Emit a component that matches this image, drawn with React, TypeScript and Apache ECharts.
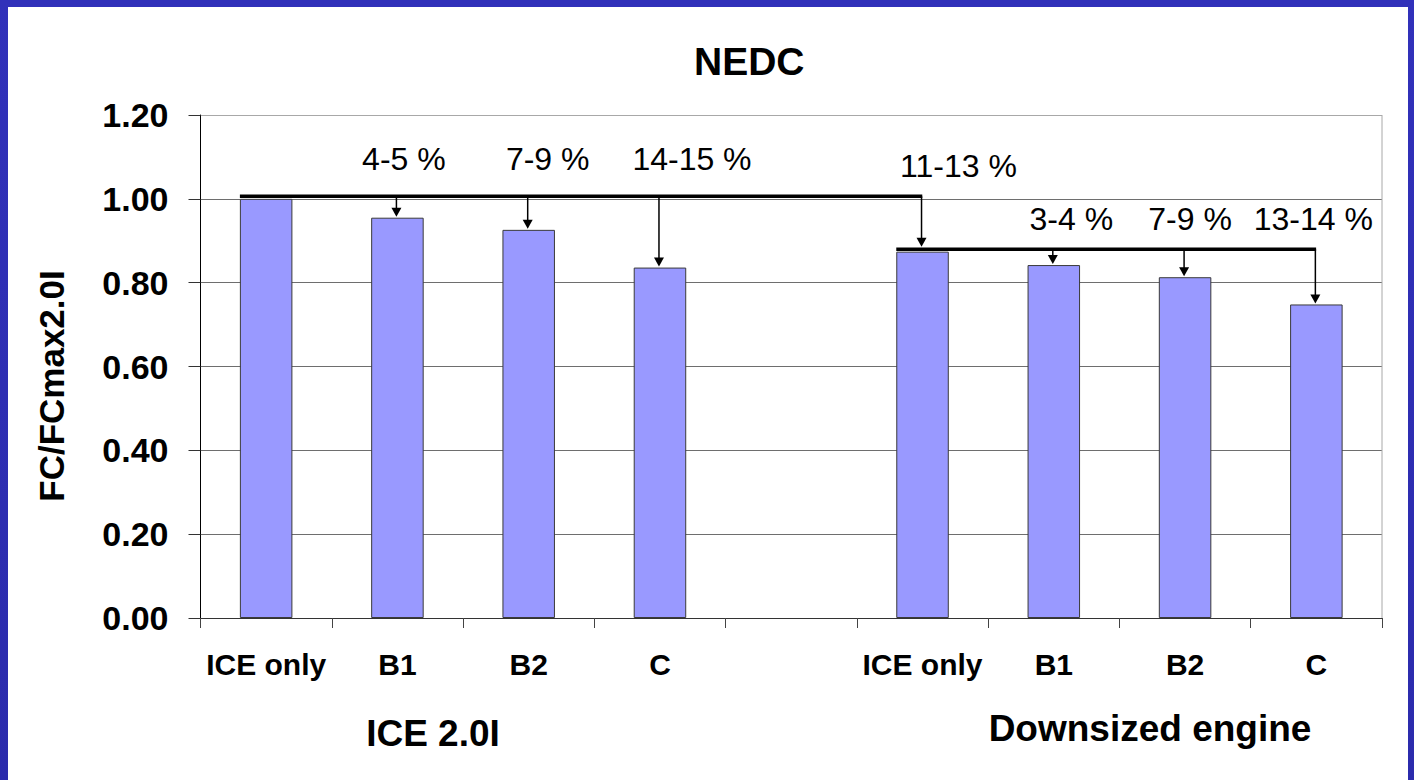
import React, { useEffect, useRef } from "react";
import * as echarts from "echarts";

// ---- data ----
const categories = ["ICE only", "B1", "B2", "C", "", "ICE only", "B1", "B2", "C"];
const fcValues: (number | null)[] = [1.0, 0.955, 0.926, 0.836, null, 0.874, 0.842, 0.813, 0.748];
const yMin = 0;
const yMax = 1.2;
const yStep = 0.2;
const chartTitle = "NEDC";
const yAxisTitle = "FC/FCmax2.0I";
const groupNames = ["ICE 2.0I", "Downsized engine"];
// reference bar of each bracket and the bars its arrows point to
const bracketRefs = [0, 5];
const bracketTargets = [[1, 2, 3, 5], [6, 7, 8]];
// saving annotations: text, category it sits over, value level of the text
const savingTexts = ["4-5 %", "7-9 %", "14-15 %", "11-13 %", "3-4 %", "7-9 %", "13-14 %"];
const savingCats = [1, 2, 3, 5, 6, 7, 8];
const savingLevels = [1.095, 1.095, 1.095, 1.079, 0.9525, 0.9525, 0.9525];

// ---- layout (pixels) ----
const savingDx = [6.5, 19, 32, 36, 17.5, 5, -3];
const groupPos = [
  [425, 726.5],
  [1142, 721.5],
];
const FONT = '"Liberation Sans", Arial, Helvetica, sans-serif';

export default function App() {
  const ref = useRef<HTMLDivElement>(null);

  useEffect(() => {
    if (!ref.current) return;
    const chart = echarts.init(ref.current, null, { renderer: "svg" });
    const splitColors = [] as string[];
    for (let v = yMin; v <= yMax + 1e-9; v += yStep) splitColors.push("#6e6e6e");
    splitColors[splitColors.length - 1] = "#a8a8a8";

    chart.setOption({
      animation: false,
      backgroundColor: "#ffffff",
      title: {
        text: chartTitle,
        left: 686,
        top: 34.5,
        padding: 0,
        textStyle: { fontFamily: FONT, fontSize: 39, fontWeight: "bold", color: "#000" },
      },
      grid: { left: 192.5, right: 26, top: 108, bottom: 162 },
      xAxis: {
        type: "category",
        data: categories,
        boundaryGap: true,
        axisLine: { show: true, lineStyle: { color: "#333", width: 1 } },
        axisTick: { show: true, length: 10, interval: 0, alignWithLabel: false, lineStyle: { color: "#444" } },
        axisLabel: {
          interval: 0,
          margin: 31,
          fontFamily: FONT,
          fontSize: 30,
          fontWeight: "bold",
          color: "#000",
        },
        splitLine: { show: false },
      },
      yAxis: {
        type: "value",
        min: yMin,
        max: yMax,
        interval: yStep,
        axisLine: { show: true, lineStyle: { color: "#000", width: 1 } },
        axisTick: { show: true, length: 12, lineStyle: { color: "#333" } },
        axisLabel: {
          margin: 32,
          formatter: (v: number) => v.toFixed(2),
          fontFamily: FONT,
          fontSize: 34,
          fontWeight: "bold",
          color: "#000",
        },
        splitLine: { show: true, lineStyle: { color: splitColors, width: 1 } },
      },
      series: [
        {
          type: "bar",
          data: fcValues,
          barWidth: "40%",
          itemStyle: { color: "#9999ff", borderColor: "#3a3a3a", borderWidth: 1 },
        },
      ],
    });

    const px = (c: number, v: number) => chart.convertToPixel({ gridIndex: 0 }, [c, v]) as number[];
    const band = px(1, 0)[0] - px(0, 0)[0];
    const halfBar = (band * 0.4) / 2;
    const elements: any[] = [];

    // right border of plot
    const rightX = px(categories.length - 1, 0)[0] + band / 2;
    elements.push({
      type: "line",
      shape: { x1: rightX, y1: px(0, yMax)[1], x2: rightX, y2: px(0, yMin)[1] },
      style: { stroke: "#a8a8a8", lineWidth: 1 },
      z: 5,
    });

    bracketRefs.forEach((r, i) => {
      const level = fcValues[r] as number;
      const [rx, ry] = px(r, level);
      const y = ry - 2.5;
      const targets = bracketTargets[i];
      const last = targets[targets.length - 1];
      const x1 = px(last, level)[0] - 1;
      elements.push({
        type: "line",
        shape: { x1: rx - halfBar, y1: y, x2: x1 + 0.75, y2: y },
        style: { stroke: "#000", lineWidth: 3.5 },
        z: 10,
      });
      targets.forEach((t) => {
        const [tx, ty] = px(t, fcValues[t] as number);
        const ax = tx - 1;
        const tip = bracketRefs.includes(t) ? ty - 5 : ty - 1;
        elements.push({
          type: "line",
          shape: { x1: ax, y1: y, x2: ax, y2: tip - 8 },
          style: { stroke: "#000", lineWidth: 1.5 },
          z: 10,
        });
        elements.push({
          type: "polygon",
          shape: { points: [[ax - 5, tip - 9], [ax + 5, tip - 9], [ax, tip]] },
          style: { fill: "#000" },
          z: 10,
        });
      });
    });

    savingTexts.forEach((txt, i) => {
      const [x, y] = px(savingCats[i], savingLevels[i]);
      elements.push({
        type: "text",
        x: x + savingDx[i],
        y,
        style: {
          text: txt,
          fontFamily: FONT,
          fontSize: 32,
          fill: "#000",
          align: "center",
          verticalAlign: "middle",
        },
        z: 10,
      });
    });

    groupNames.forEach((g, i) => {
      elements.push({
        type: "text",
        x: groupPos[i][0],
        y: groupPos[i][1],
        style: {
          text: g,
          fontFamily: FONT,
          fontSize: 37,
          fontWeight: "bold",
          fill: "#000",
          align: "center",
          verticalAlign: "middle",
        },
      });
    });

    // y axis title
    const midY = (px(0, yMin)[1] + px(0, yMax)[1]) / 2;
    elements.push({
      type: "text",
      x: 43,
      y: midY + 19.5,
      rotation: Math.PI / 2,
      style: {
        text: yAxisTitle,
        fontFamily: FONT,
        fontSize: 35,
        fontWeight: "bold",
        fill: "#000",
        align: "center",
        verticalAlign: "middle",
      },
    });

    chart.setOption({ graphic: { elements } });

    return () => chart.dispose();
  }, []);

  return (
    <div
      style={{
        position: "absolute",
        left: 0,
        top: 0,
        width: 1414,
        height: 780,
        background: "linear-gradient(180deg, #3131ba 0%, #2b2bac 100%)",
        overflow: "hidden",
      }}
    >
      <div
        ref={ref}
        style={{ position: "absolute", left: 8, top: 7, width: 1400, height: 773, background: "#fff" }}
      />
    </div>
  );
}
